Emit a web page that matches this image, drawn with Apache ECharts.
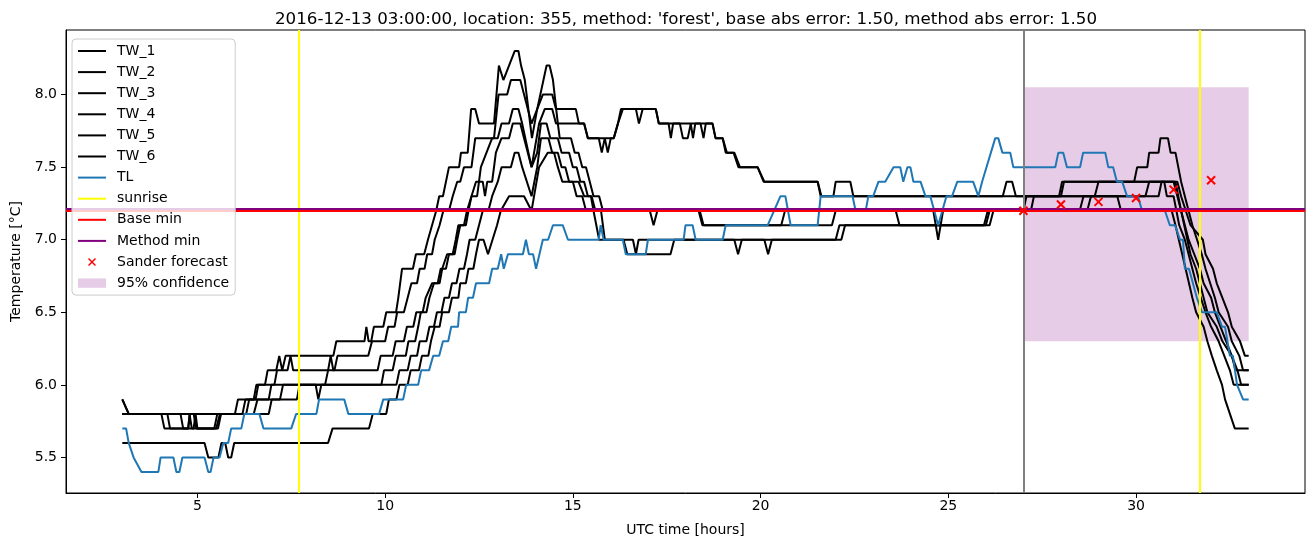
<!DOCTYPE html>
<html>
<head>
<meta charset="utf-8">
<script src="https://cdn.jsdelivr.net/npm/echarts@6/dist/echarts.min.js"></script>
<style>
html,body{margin:0;padding:0;background:#fff;}
#chart{width:1315px;height:547px;}
</style>
</head>
<body>
<div id="chart"></div>
<script>
// ---------- data (time in hours UTC, temperature in °C) ----------
const tw1 = [[3,5.9],[3.17,5.8],[6.0,5.8],[6.08,5.9],[6.55,5.9],[6.62,6.0],[6.8,6.0],[6.87,6.1],[7.1,6.1],[7.18,6.2],[7.26,6.1],[7.35,6.2],[8.62,6.2],[8.7,6.3],[9.45,6.3],[9.5,6.4],[9.56,6.3],[9.63,6.3],[9.7,6.4],[9.95,6.4],[10.03,6.5],[10.29,6.5],[10.35,6.6],[10.45,6.8],[10.74,6.8],[10.82,6.9],[11.04,6.9],[11.14,7.0],[11.25,7.1],[11.36,7.2],[11.44,7.3],[11.54,7.3],[11.7,7.5],[11.97,7.5],[12.02,7.6],[12.2,7.6],[12.29,7.9],[12.4,7.9],[12.5,7.8],[12.9,7.8],[13.03,8.2],[13.15,8.1],[13.3,8.2],[13.45,8.3],[13.55,8.3],[13.62,8.2],[13.72,8.1],[13.91,7.7],[14.05,7.9],[14.3,8.2],[14.38,8.2],[14.47,8.1],[14.6,7.8],[14.65,7.7],[14.95,7.7],[15.05,7.6],[15.15,7.6],[15.25,7.5],[15.35,7.5],[15.45,7.4],[15.55,7.3],[15.7,7.3],[15.8,7.2],[17.05,7.2],[17.15,7.1],[17.25,7.2],[18.35,7.2],[18.45,7.1],[21.9,7.1],[22.0,7.2],[24.6,7.2],[24.73,7.0],[24.86,7.2],[27.0,7.2],[27.08,7.3],[29.5,7.3],[29.6,7.2],[30.95,7.2],[31.05,7.1],[31.5,6.6],[31.6,6.5],[31.8,6.4],[31.9,6.3],[32.02,6.2],[32.15,6.1],[32.29,6.0],[32.37,5.9],[32.5,5.8],[32.63,5.7],[33,5.7]];
const tw2 = [[3,5.9],[3.17,5.8],[6.2,5.8],[6.28,5.9],[6.5,5.9],[6.57,6.0],[7.05,6.0],[7.12,6.1],[7.4,6.1],[7.48,6.2],[7.55,6.1],[8.65,6.1],[8.73,6.2],[9.55,6.2],[9.65,6.3],[10.0,6.3],[10.08,6.4],[10.25,6.4],[10.32,6.5],[10.5,6.5],[10.6,6.6],[10.7,6.7],[10.85,6.7],[10.92,6.8],[11.05,6.8],[11.12,6.9],[11.25,6.9],[11.32,7.0],[11.45,7.1],[11.55,7.2],[11.7,7.2],[11.8,7.3],[11.92,7.4],[12.0,7.4],[12.1,7.5],[12.3,7.5],[12.4,7.7],[12.9,7.7],[13.02,8.0],[13.25,8.0],[13.35,8.1],[13.6,8.1],[13.7,8.0],[13.9,7.8],[14.05,7.9],[14.2,8.0],[14.45,8.0],[14.55,7.9],[15.08,7.9],[15.16,7.8],[15.3,7.8],[15.4,7.7],[15.69,7.7],[15.77,7.6],[15.85,7.7],[15.88,7.7],[15.93,7.6],[16.01,7.7],[16.09,7.7],[16.2,7.8],[16.28,7.9],[16.68,7.9],[16.76,7.8],[16.86,7.9],[17.21,7.9],[17.29,7.8],[17.55,7.8],[17.61,7.7],[17.67,7.8],[17.85,7.8],[17.93,7.7],[18.06,7.7],[18.14,7.8],[18.2,7.7],[18.26,7.8],[18.4,7.8],[18.48,7.7],[18.54,7.8],[18.72,7.8],[18.8,7.7],[18.99,7.7],[19.07,7.6],[19.28,7.6],[19.41,7.5],[19.92,7.5],[20.08,7.4],[21.52,7.4],[21.6,7.3],[26.45,7.3],[26.55,7.4],[26.7,7.4],[26.8,7.3],[28.0,7.3],[28.08,7.4],[31.1,7.4],[31.2,7.3],[31.45,7.1],[31.78,7.0],[31.85,6.9],[32.05,6.8],[32.15,6.7],[32.3,6.6],[32.45,6.5],[32.55,6.4],[32.77,6.3],[32.9,6.2],[33,6.2]];
const tw3 = [[3,5.8],[4.04,5.8],[4.12,5.7],[4.76,5.7],[4.79,5.8],[4.85,5.7],[5.45,5.7],[5.53,5.8],[6.3,5.8],[6.38,5.9],[6.9,5.9],[6.97,6.0],[8.15,6.0],[8.22,5.9],[8.3,6.0],[9.9,6.0],[9.97,6.1],[10.2,6.1],[10.28,6.2],[10.55,6.2],[10.62,6.3],[10.8,6.3],[10.88,6.4],[10.95,6.5],[11.1,6.5],[11.18,6.6],[11.3,6.7],[11.45,6.7],[11.52,6.8],[11.65,6.9],[11.8,6.9],[11.88,7.0],[11.95,7.1],[12.1,7.1],[12.18,7.2],[12.3,7.3],[12.45,7.3],[12.55,7.5],[12.6,7.5],[12.7,7.6],[12.85,7.7],[13.0,7.7],[13.1,7.8],[13.3,7.8],[13.4,7.9],[13.55,7.9],[13.65,7.8],[13.9,7.5],[14.1,7.8],[14.25,7.9],[14.45,7.9],[14.55,7.8],[15.3,7.8],[15.4,7.7],[16.09,7.7],[16.2,7.8],[16.33,7.9],[17.21,7.9],[17.29,7.8],[18.72,7.8],[18.8,7.7],[18.99,7.7],[19.1,7.6],[19.3,7.6],[19.45,7.5],[19.92,7.5],[20.1,7.4],[21.52,7.4],[21.62,7.3],[21.94,7.3],[22.0,7.4],[22.39,7.4],[22.47,7.3],[27.95,7.3],[28.03,7.4],[29.95,7.4],[30.03,7.5],[30.3,7.5],[30.35,7.6],[30.6,7.6],[30.65,7.7],[30.85,7.7],[30.92,7.6],[31.05,7.6],[31.2,7.4],[31.5,7.1],[31.75,6.9],[31.85,6.8],[32.1,6.6],[32.2,6.5],[32.45,6.4],[32.55,6.3],[32.75,6.2],[32.85,6.1],[33,6.1]];
const tw4 = [[3,5.8],[4.2,5.8],[4.27,5.7],[4.9,5.7],[4.95,5.8],[5.0,5.7],[5.5,5.7],[5.6,5.8],[6.5,5.8],[6.6,5.9],[7.2,5.9],[7.28,6.0],[8.4,6.0],[8.48,6.1],[8.55,6.2],[8.62,6.1],[9.8,6.1],[9.88,6.2],[10.2,6.2],[10.28,6.3],[10.5,6.3],[10.58,6.4],[10.75,6.4],[10.83,6.5],[11.0,6.5],[11.08,6.6],[11.25,6.7],[11.4,6.7],[11.48,6.8],[11.62,6.8],[11.7,6.9],[11.85,6.9],[11.92,7.0],[12.0,7.1],[12.15,7.1],[12.22,7.2],[12.3,7.3],[12.42,7.4],[12.6,7.4],[12.66,7.3],[12.72,7.4],[12.85,7.4],[12.95,7.6],[13.1,7.7],[13.3,7.7],[13.4,7.8],[13.6,7.8],[13.7,7.7],[13.9,7.5],[14.05,7.6],[14.15,7.8],[14.3,7.8],[14.4,7.7],[14.6,7.7],[14.7,7.6],[14.9,7.6],[15.0,7.5],[15.1,7.5],[15.2,7.4],[15.3,7.4],[15.4,7.3],[15.5,7.3],[15.6,7.2],[15.75,7.2],[15.85,7.0],[16.6,7.0],[16.68,6.9],[16.75,7.0],[19.3,7.0],[19.4,6.9],[19.5,7.0],[20.1,7.0],[20.2,6.9],[20.3,7.0],[22.15,7.0],[22.25,7.1],[25.95,7.1],[26.05,7.2],[27.2,7.2],[27.28,7.3],[28.9,7.3],[29.0,7.4],[31.0,7.4],[31.1,7.3],[31.4,7.0],[31.7,6.8],[31.8,6.7],[32.0,6.6],[32.1,6.5],[32.4,6.3],[32.55,6.2],[32.7,6.1],[32.8,6.0],[33,6.0]];
const tw5 = [[3,5.8],[4.55,5.8],[4.62,5.7],[4.75,5.7],[4.8,5.8],[4.9,5.8],[4.97,5.7],[5.55,5.7],[5.63,5.8],[6.9,5.8],[6.98,5.9],[7.65,5.9],[7.72,6.0],[10.3,6.0],[10.38,6.1],[10.6,6.1],[10.68,6.2],[10.85,6.2],[10.92,6.3],[11.1,6.3],[11.18,6.4],[11.3,6.4],[11.38,6.5],[11.5,6.5],[11.58,6.6],[11.7,6.6],[11.78,6.7],[11.9,6.7],[11.98,6.8],[12.1,6.8],[12.18,6.9],[12.25,7.0],[12.4,7.0],[12.5,7.1],[12.6,7.2],[12.75,7.2],[12.85,7.3],[13.0,7.4],[13.1,7.5],[13.35,7.5],[13.45,7.6],[13.55,7.6],[13.65,7.5],[13.9,7.3],[14.05,7.5],[14.15,7.7],[14.35,7.7],[14.45,7.6],[14.6,7.6],[14.7,7.5],[14.8,7.5],[14.9,7.4],[15.0,7.4],[15.1,7.3],[15.25,7.3],[15.35,7.2],[18.38,7.2],[18.48,7.1],[20.55,7.1],[20.65,7.2],[23.6,7.2],[23.7,7.1],[26.0,7.1],[26.1,7.2],[28.5,7.2],[28.6,7.3],[30.25,7.3],[30.35,7.4],[31.05,7.4],[31.2,7.2],[31.45,6.9],[31.6,6.8],[31.8,6.6],[31.9,6.5],[32.15,6.4],[32.3,6.3],[32.55,6.2],[32.65,6.1],[33,6.1]];
const tw6 = [[3,5.6],[5.19,5.6],[5.29,5.5],[5.56,5.5],[5.64,5.6],[5.74,5.6],[5.82,5.5],[5.9,5.5],[5.98,5.6],[8.48,5.6],[8.6,5.7],[9.57,5.7],[9.67,5.8],[10.03,5.8],[10.1,5.9],[10.3,5.9],[10.38,6.0],[10.6,6.0],[10.68,6.1],[10.9,6.1],[10.98,6.2],[11.15,6.2],[11.22,6.3],[11.32,6.4],[11.45,6.4],[11.52,6.5],[11.7,6.5],[11.78,6.6],[11.95,6.6],[12.0,6.7],[12.15,6.7],[12.22,6.8],[12.35,6.8],[12.42,6.9],[12.5,7.0],[12.62,7.0],[12.74,6.9],[12.86,7.0],[12.98,7.1],[13.08,7.2],[13.3,7.3],[13.7,7.3],[13.9,7.2],[14.1,7.5],[14.33,7.6],[14.5,7.6],[14.6,7.5],[14.72,7.4],[15.15,7.4],[15.3,7.3],[15.48,7.3],[15.55,7.2],[15.7,7.0],[16.35,7.0],[16.45,6.9],[17.6,6.9],[17.7,7.0],[22.0,7.0],[22.1,7.1],[26.1,7.1],[26.2,7.2],[28.7,7.2],[28.8,7.3],[30.6,7.3],[30.68,7.4],[30.75,7.4],[30.82,7.3],[31.0,7.3],[31.15,7.1],[31.3,7.0],[31.5,6.8],[31.6,6.7],[31.85,6.5],[32.0,6.4],[32.2,6.3],[32.35,6.2],[32.5,6.1],[32.6,6.0],[33,6.0]];
const tl = [[3,5.7],[3.1,5.7],[3.17,5.6],[3.3,5.5],[3.51,5.4],[3.96,5.4],[4.02,5.5],[4.36,5.5],[4.44,5.4],[4.52,5.4],[4.6,5.5],[5.19,5.5],[5.29,5.4],[5.35,5.4],[5.43,5.5],[5.59,5.5],[5.69,5.6],[5.82,5.6],[5.9,5.7],[6.17,5.7],[6.25,5.8],[6.65,5.8],[6.76,5.7],[7.5,5.7],[7.63,5.8],[8.17,5.8],[8.24,5.9],[8.91,5.9],[9.02,5.8],[9.84,5.8],[9.95,5.9],[10.48,5.9],[10.56,6.0],[10.88,6.0],[10.96,6.1],[11.17,6.1],[11.28,6.2],[11.44,6.2],[11.54,6.3],[11.68,6.3],[11.76,6.4],[11.94,6.4],[11.97,6.5],[12.15,6.5],[12.21,6.6],[12.34,6.6],[12.42,6.7],[12.77,6.7],[12.85,6.8],[13.0,6.8],[13.09,6.9],[13.16,6.8],[13.27,6.9],[13.67,6.9],[13.75,7.0],[13.83,6.9],[13.94,6.9],[14.02,6.8],[14.2,7.0],[14.34,7.0],[14.47,7.1],[14.73,7.1],[14.87,7.0],[15.69,7.0],[15.74,7.1],[15.82,7.0],[16.33,7.0],[16.41,6.9],[16.94,6.9],[17.0,7.0],[17.95,7.0],[18.0,7.1],[18.19,7.1],[18.27,7.0],[18.99,7.0],[19.07,7.1],[20.19,7.1],[20.53,7.3],[20.66,7.3],[20.8,7.1],[21.52,7.1],[21.6,7.3],[22.45,7.3],[22.53,7.2],[22.8,7.2],[22.87,7.3],[23.0,7.3],[23.14,7.4],[23.32,7.4],[23.54,7.5],[23.72,7.5],[23.8,7.4],[23.91,7.5],[23.99,7.5],[24.07,7.4],[24.26,7.4],[24.39,7.3],[24.52,7.3],[24.73,7.1],[24.95,7.3],[25.1,7.3],[25.24,7.4],[25.66,7.4],[25.8,7.3],[25.9,7.4],[26.25,7.7],[26.33,7.7],[26.44,7.6],[26.65,7.6],[26.73,7.5],[27.85,7.5],[27.93,7.6],[28.06,7.6],[28.16,7.5],[28.51,7.5],[28.59,7.6],[29.18,7.6],[29.26,7.5],[29.39,7.5],[29.49,7.4],[29.63,7.4],[29.76,7.3],[30.05,7.3],[30.16,7.2],[30.77,7.2],[30.9,7.1],[31.04,7.1],[31.17,7.0],[31.25,7.0],[31.3,6.8],[31.41,6.8],[31.62,6.6],[31.65,6.6],[31.76,6.5],[32.15,6.5],[32.29,6.4],[32.37,6.4],[32.5,6.2],[32.58,6.2],[32.69,6.0],[32.74,6.0],[32.85,5.9],[33,5.9]];
const sunriseTimes = [7.71, 31.70];
const forecastTime = 27.0;
const baseMin = 7.2;
const methodMin = 7.21;
const sanderHours = [27, 28, 29, 30, 31, 32];
const sanderTemps = [7.20, 7.243, 7.261, 7.287, 7.345, 7.41];
const confStart = 27.0, confEnd = 33.0, confLow = 6.3, confHigh = 8.05;
const xTicks = [5, 10, 15, 20, 25, 30];
const yTicks = [5.5, 6.0, 6.5, 7.0, 7.5, 8.0];
const titleText = "2016-12-13 03:00:00, location: 355, method: 'forest', base abs error: 1.50, method abs error: 1.50";

// ---------- chart ----------
const FONT = 'DejaVu Sans';
const chart = echarts.init(document.getElementById('chart'), null, {renderer: 'canvas'});
const lineIcon = 'path://M0,0 L0,0 M0,6 L28,6 L28,8 L0,8 Z M28,14 L28,14';
const xIcon = 'path://M0,0 L0,0 M10,4 L11,3 L18,10 L17,11 Z M17,3 L18,4 L11,11 L10,10 Z M28,14 L28,14';
const rectIcon = 'path://M0,0 L0,0 M0,2.3 L28,2.3 L28,11.7 L0,11.7 Z M28,14 L28,14';

const twSeries = [tw1, tw2, tw3, tw4, tw5, tw6].map((d, i) => ({
  name: 'TW_' + (i + 1), type: 'line', data: d, showSymbol: false, symbol: 'none',
  lineStyle: {color: '#000', width: 2}, itemStyle: {color: '#000'}, z: 2
}));

const option = {
  animation: false,
  backgroundColor: '#fff',
  title: {
    text: titleText, left: 681, top: 6, textAlign: 'center',
    textStyle: {fontFamily: FONT, fontSize: 16.7, fontWeight: 'normal', color: '#000'}
  },
  grid: {left: 66, top: 30, width: 1239, height: 463, show: true, borderColor: '#000', borderWidth: 1,
         containLabel: false, outerBoundsMode: 'none'},
  xAxis: {
    type: 'value', min: 1.5, max: 34.5,
    name: 'UTC time [hours]', nameLocation: 'middle', nameGap: 30,
    nameTextStyle: {fontFamily: FONT, fontSize: 14, color: '#000'},
    axisLine: {show: true, lineStyle: {color: '#000', width: 1}},
    axisTick: {show: true, inside: false, length: 5, lineStyle: {color: '#000'}, customValues: xTicks},
    axisLabel: {fontFamily: FONT, fontSize: 14, color: '#000', margin: 6, customValues: xTicks, formatter: v => String(Math.round(v))},
    splitLine: {show: false}
  },
  yAxis: {
    type: 'value', min: 5.255, max: 8.445,
    name: 'Temperature [°C]', nameLocation: 'middle', nameGap: 43, nameRotate: 90,
    nameTextStyle: {fontFamily: FONT, fontSize: 14, color: '#000'},
    axisLine: {show: true, lineStyle: {color: '#000', width: 1}},
    axisTick: {show: true, inside: false, length: 5, lineStyle: {color: '#000'}, customValues: yTicks},
    axisLabel: {fontFamily: FONT, fontSize: 14, color: '#000', margin: 9, customValues: yTicks, formatter: v => v.toFixed(1)},
    splitLine: {show: false}
  },
  legend: {
    orient: 'vertical', left: 72, top: 39, z: 20,
    padding: [5, 6, 5, 6],
    backgroundColor: 'rgba(255,255,255,0.8)', borderColor: '#cccccc', borderWidth: 1, borderRadius: 4,
    itemWidth: 28, itemHeight: 14, itemGap: 7.1,
    textStyle: {fontFamily: FONT, fontSize: 14, color: '#000', lineHeight: 14, padding: [0, 0, 0, 6]},
    selectedMode: false,
    data: [
      {name: 'TW_1', icon: lineIcon}, {name: 'TW_2', icon: lineIcon}, {name: 'TW_3', icon: lineIcon},
      {name: 'TW_4', icon: lineIcon}, {name: 'TW_5', icon: lineIcon}, {name: 'TW_6', icon: lineIcon},
      {name: 'TL', icon: lineIcon}, {name: 'sunrise', icon: lineIcon}, {name: 'Base min', icon: lineIcon},
      {name: 'Method min', icon: lineIcon},
      {name: 'Sander forecast', icon: xIcon, itemStyle: {color: '#ff0000', borderWidth: 0}},
      {name: '95% confidence', icon: rectIcon, itemStyle: {color: 'rgba(128,0,128,0.2)', borderWidth: 0}}
    ]
  },
  series: [
    ...twSeries,
    {name: 'TL', type: 'line', data: tl, showSymbol: false, symbol: 'none',
     lineStyle: {color: '#1f77b4', width: 2}, itemStyle: {color: '#1f77b4'}, z: 3},
    {name: 'sunrise', type: 'line', data: [], itemStyle: {color: '#ffff00'}, lineStyle: {color: '#ffff00', width: 2},
     markLine: {silent: true, symbol: 'none', label: {show: false}, lineStyle: {color: '#ffff00', width: 2, type: 'solid'},
       data: sunriseTimes.map(v => ({xAxis: v}))}, z: 4},
    {name: 'forecast time', type: 'line', data: [],
     markLine: {silent: true, symbol: 'none', label: {show: false}, lineStyle: {color: '#808080', width: 2, type: 'solid'},
       data: [{xAxis: forecastTime}]}, z: 4},
    {name: 'Method min', type: 'line', data: [], itemStyle: {color: '#800080'}, lineStyle: {color: '#800080', width: 2},
     markLine: {silent: true, symbol: 'none', label: {show: false}, lineStyle: {color: '#800080', width: 2, type: 'solid'},
       data: [{yAxis: methodMin}]}, z: 5},
    {name: 'Base min', type: 'line', data: [], itemStyle: {color: '#ff0000'}, lineStyle: {color: '#ff0000', width: 2},
     markLine: {silent: true, symbol: 'none', label: {show: false}, lineStyle: {color: '#ff0000', width: 2, type: 'solid'},
       data: [{yAxis: baseMin}]}, z: 6},
    {name: 'Sander forecast', type: 'scatter', data: sanderHours.map((h, i) => [h, sanderTemps[i]]),
     symbol: 'path://M0,0 L10,10 M10,0 L0,10', symbolSize: 8,
     itemStyle: {color: 'none', borderColor: '#ff0000', borderWidth: 2, opacity: 1}, z: 7},
    {name: '95% confidence', type: 'line', data: [], itemStyle: {color: 'rgba(128,0,128,0.2)'},
     lineStyle: {color: 'rgba(128,0,128,0.2)', width: 0},
     markArea: {silent: true, itemStyle: {color: 'rgba(128,0,128,0.2)'},
       data: [[{xAxis: confStart, yAxis: confLow}, {xAxis: confEnd, yAxis: confHigh}]]}, z: 1}
  ]
};
chart.setOption(option);
</script>
</body>
</html>
